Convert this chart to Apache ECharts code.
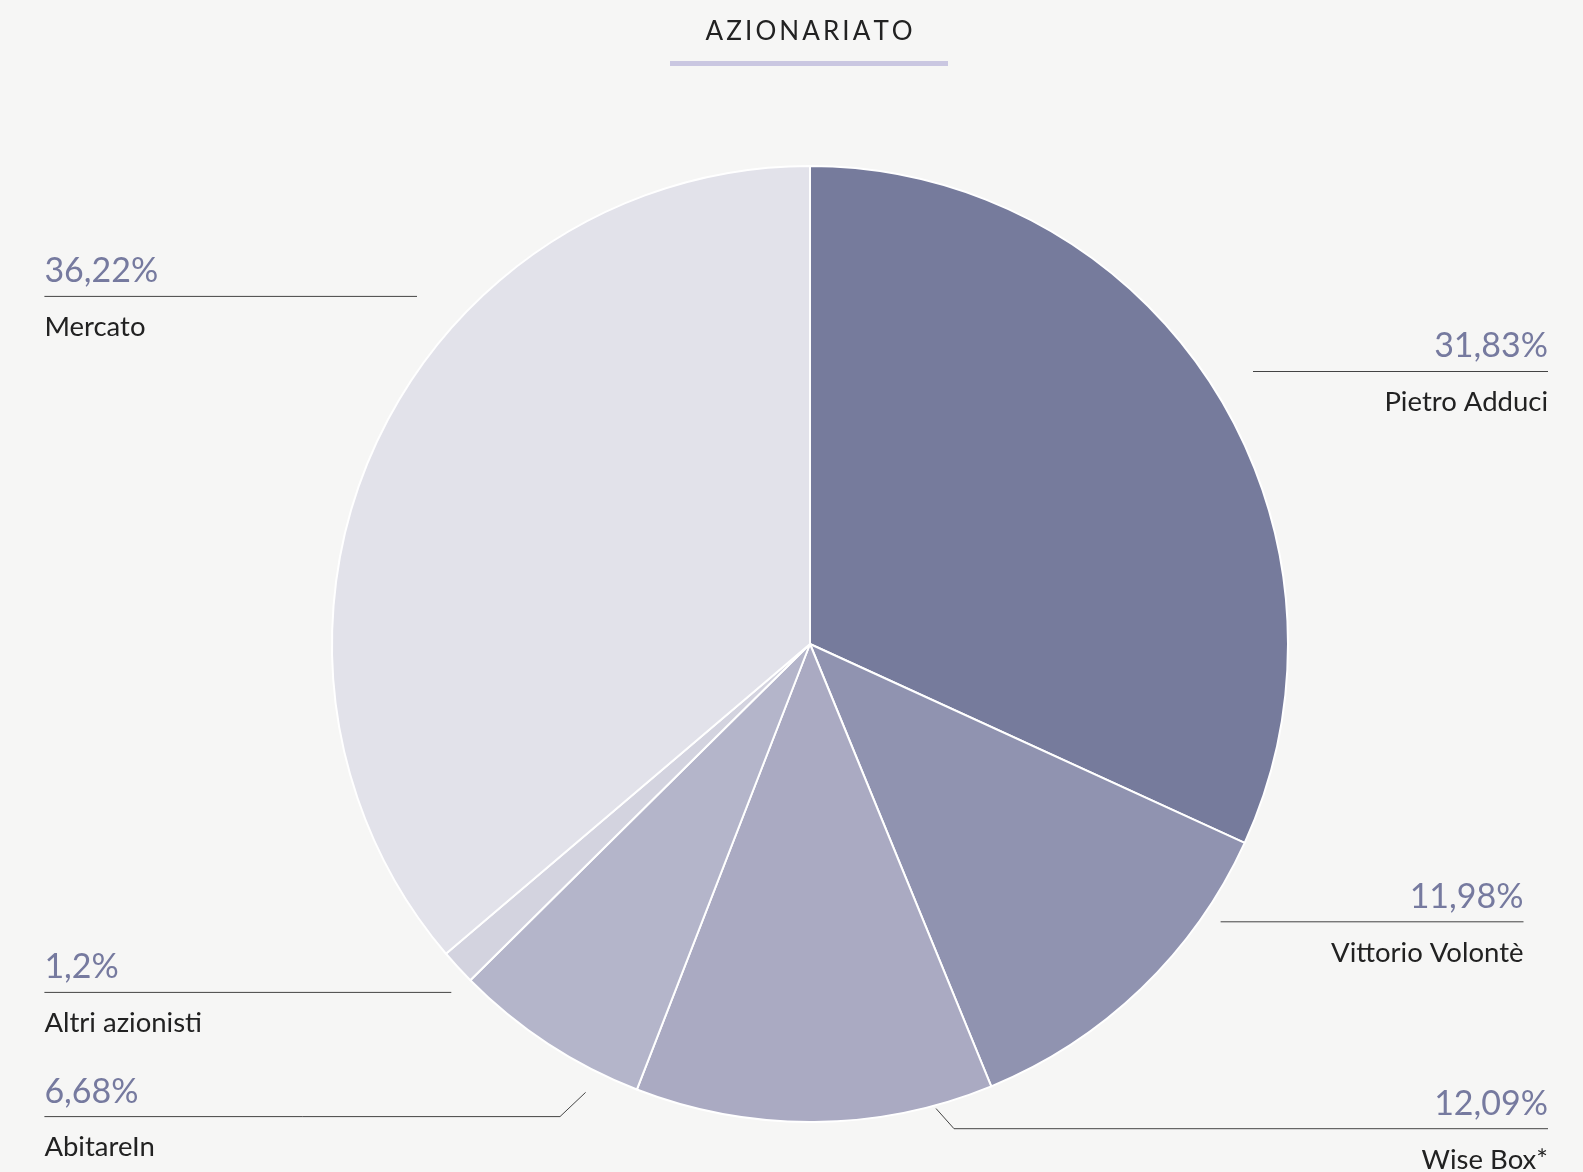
<!DOCTYPE html>
<html>
<head>
<meta charset="utf-8">
<script src="https://cdn.jsdelivr.net/npm/echarts@6/dist/echarts.min.js"></script>
<style>
html,body{margin:0;padding:0;background:#f6f6f5;}
#chart{width:1583px;height:1172px;}
</style>
</head>
<body>
<div id="chart"></div>
<script>
const titleText = 'AZIONARIATO';
const categories = ['Pietro Adduci', 'Vittorio Volontè', 'Wise Box*', 'AbitareIn', 'Altri azionisti', 'Mercato'];
const shares = [31.83, 11.98, 12.09, 6.68, 1.2, 36.22];
const sliceColors = ['#767b9c', '#9093b0', '#aaaac2', '#b4b5ca', '#d3d3df', '#e2e2ea'];

// label placement (pixels): anchor x, rule y, rule start/end x, optional connector start
const labelPlaces = [
  {align: 'right', x: 1548, ly: 371.5, x0: 1253, x1: 1548},
  {align: 'right', x: 1523.5, ly: 921.8, x0: 1220.6, x1: 1523.5},
  {align: 'right', x: 1548, ly: 1128.7, x0: 954, x1: 1548, from: [936, 1108.5]},
  {align: 'left', x: 44.4, ly: 1116.6, x0: 44.4, x1: 560, from: [585.6, 1092.4]},
  {align: 'left', x: 44.4, ly: 992.4, x0: 44.4, x1: 451.3},
  {align: 'left', x: 44.4, ly: 296.4, x0: 44.4, x1: 417}
];

const chart = echarts.init(document.getElementById('chart'));
const fmt = v => String(v).replace('.', ',') + '%';

chart.setOption({
  backgroundColor: '#f6f6f5',
  animation: false,
  title: {
    text: titleText.split('').map(ch => '{s|' + ch + '}').join(''),
    left: 699,
    top: 14,
    textStyle: {
      fontFamily: 'Lato', fontSize: 26, fontWeight: 400, color: '#222222',
      rich: {s: {fontFamily: 'Lato', fontSize: 26, fontWeight: 400, color: '#222222', padding: [0, 1.55, 0, 1.55]}}
    }
  },
  graphic: [{
    type: 'rect',
    shape: {x: 670, y: 61, width: 278, height: 5},
    style: {fill: '#cac7e1'}
  }],
  series: [{
    type: 'pie',
    center: [810, 644],
    radius: [0, 478],
    startAngle: 90,
    clockwise: true,
    silent: true,
    itemStyle: {borderColor: '#ffffff', borderWidth: 2},
    data: categories.map((c, i) => ({name: c, value: shares[i], itemStyle: {color: sliceColors[i]}})),
    label: {
      show: true,
      formatter: p => '{v|' + fmt(p.value) + '}\n{n|' + p.name + '}',
      rich: {
        v: {fontFamily: 'Lato', fontSize: 34, fontWeight: 400, color: '#767a9f', lineHeight: 56},
        n: {fontFamily: 'Lato', fontSize: 27.5, fontWeight: 400, color: '#222222', lineHeight: 56}
      }
    },
    labelLine: {show: true, lineStyle: {color: '#444444', width: 1}},
    labelLayout: function (params) {
      const p = labelPlaces[params.dataIndex];
      const pts = p.from
        ? (p.align === 'right' ? [p.from, [p.x0, p.ly], [p.x1, p.ly]] : [p.from, [p.x1, p.ly], [p.x0, p.ly]])
        : [[p.x0, p.ly], [p.x0, p.ly], [p.x1, p.ly]];
      return {
        x: p.x,
        y: p.ly - 53,
        align: p.align,
        verticalAlign: 'top',
        labelLinePoints: pts
      };
    }
  }]
});
</script>
</body>
</html>
